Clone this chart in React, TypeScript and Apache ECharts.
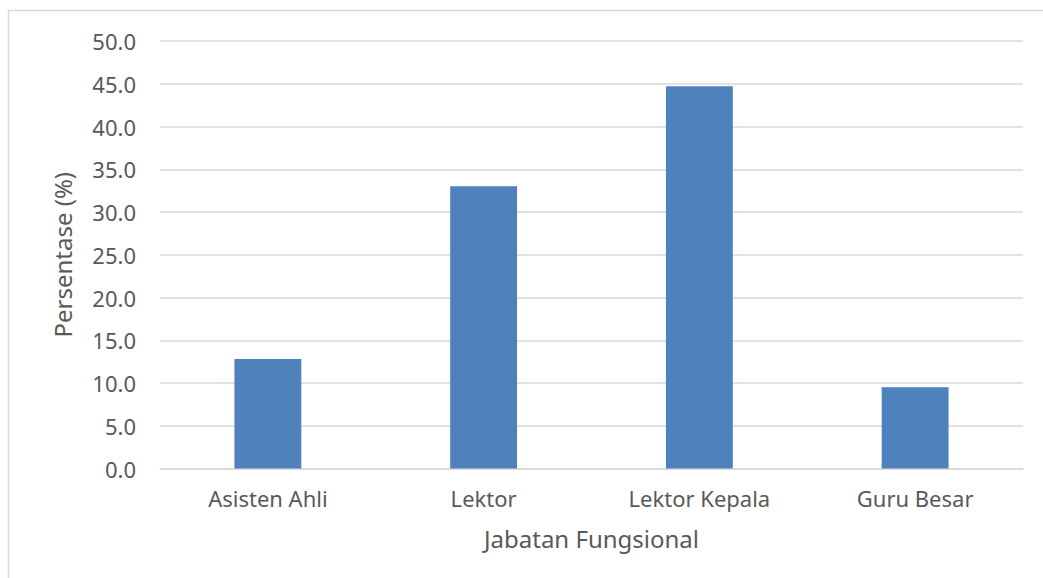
import React, { useEffect, useRef } from "react";
import * as echarts from "echarts";

const categories = ["Asisten Ahli", "Lektor", "Lektor Kepala", "Guru Besar"];
const values = [12.8, 33.0, 44.7, 9.5];
const yAxisName = "Persentase (%)";
const xAxisName = "Jabatan Fungsional";

export default function App() {
  const ref = useRef<HTMLDivElement>(null);
  useEffect(() => {
    if (!ref.current) return;
    const chart = echarts.init(ref.current, null, { renderer: "svg" });
    const font = "'Noto Sans', sans-serif";
    chart.setOption({
      animation: false,
      backgroundColor: "#ffffff",
      graphic: [
        {
          type: "rect",
          shape: { x: 8.5, y: 10.5, width: 1100, height: 700 },
          style: { fill: "none", stroke: "#d9d9d9", lineWidth: 1.5 },
          silent: true,
        },
      ],
      grid: { left: 160, right: 20, top: 41, bottom: 109.5 },
      xAxis: {
        type: "category",
        data: categories,
        name: xAxisName,
        nameLocation: "middle",
        nameGap: 58,
        nameTextStyle: { fontFamily: font, fontSize: 24, color: "#595959" },
        axisLine: { lineStyle: { color: "#d9d9d9", width: 1.5 } },
        axisTick: { show: false },
        axisLabel: { fontFamily: font, fontSize: 22, color: "#595959", margin: 18 },
      },
      yAxis: {
        type: "value",
        min: 0,
        max: 50,
        interval: 5,
        name: yAxisName,
        nameLocation: "middle",
        nameGap: 86,
        nameTextStyle: { fontFamily: font, fontSize: 24, color: "#595959" },
        axisLine: { show: false },
        axisTick: { show: false },
        axisLabel: {
          fontFamily: font,
          fontSize: 22,
          color: "#595959",
          margin: 24,
          formatter: (v: number) => v.toFixed(1),
        },
        splitLine: { lineStyle: { color: "#d9d9d9", width: 1.5 } },
      },
      series: [
        {
          type: "bar",
          data: values,
          barWidth: "31%",
          itemStyle: { color: "#4f81bd" },
        },
      ],
    });
    return () => chart.dispose();
  }, []);
  return (
    <div
      ref={ref}
      style={{ position: "absolute", left: 0, top: 0, width: 1043, height: 578 }}
    />
  );
}
